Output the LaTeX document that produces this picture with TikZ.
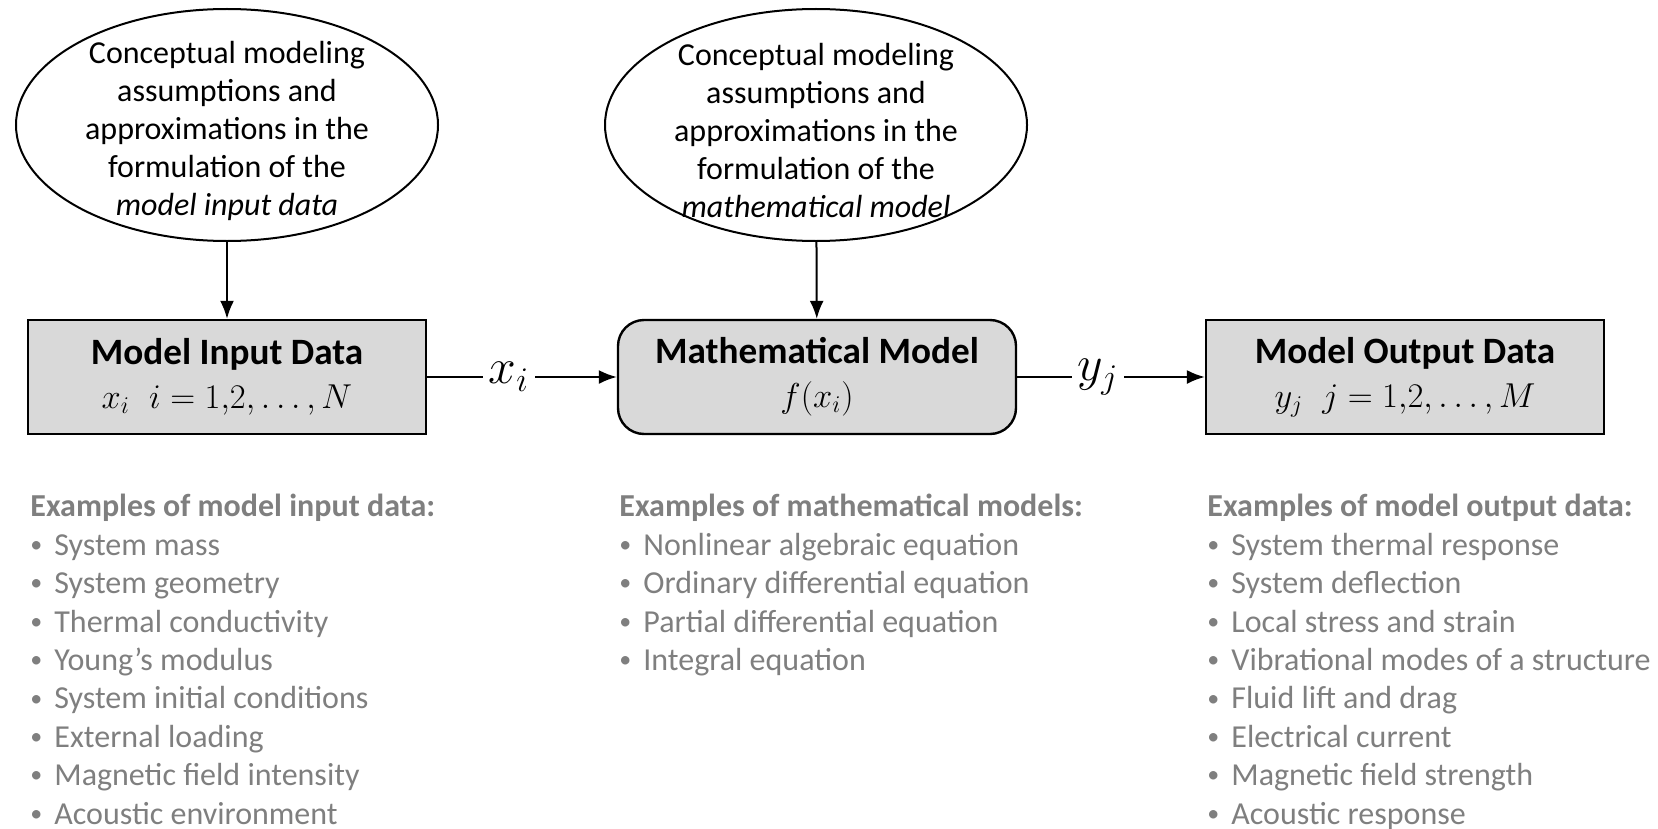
\documentclass[tikz,border=0pt]{standalone}
\usepackage[no-math]{fontspec}
\setmainfont{Carlito}
\usetikzlibrary{shapes.geometric,arrows.meta}
\definecolor{boxgray}{RGB}{217,217,217}
\definecolor{textgray}{RGB}{127,127,127}
\newcommand{\itm}{\makebox[12pt][l]{\raisebox{1.4pt}{\fontsize{12}{12}\selectfont\textbullet}}}
\newcommand{\mathline}{\fontsize{17.5}{22}\selectfont}

\begin{document}
\begin{tikzpicture}[x=0.5pt, y=-0.5pt, >={Latex[length=9pt,width=7pt]},
    idea/.style={ellipse, draw, line width=1pt, minimum width=211pt, minimum height=116pt,
        inner xsep=0pt, inner ysep=-12pt, align=center, font=\fontsize{16}{19}\selectfont},
    block/.style={rectangle, draw, fill=boxgray, line width=1.2pt, minimum width=199pt,
        minimum height=57pt, inner sep=0pt, align=center, font=\fontsize{18.6}{22}\selectfont},
    examples/.style={anchor=north west, inner sep=0pt, align=left, text=textgray,
        font=\fontsize{16}{19.2}\selectfont},
    flow/.style={->, line width=1pt},
    sym/.style={fill=white, inner sep=3pt, font=\fontsize{24}{24}\selectfont}]
    \useasboundingbox (0,0) rectangle (1658,829);

    \node[idea] (cin) at (227,125) {\rule{0pt}{17pt}Conceptual modeling\\assumptions and\\approximations in the\\formulation of the\\\textit{model input data}};
    \node[idea] (cmath) at (816,125) {\rule{0pt}{17pt}Conceptual modeling\\assumptions and\\approximations in the\\formulation of the\\\textit{mathematical model}};

    \node[block] (in) at (227,377) {\textbf{Model Input Data}\\\mathline$x_i\;\; i=1{,}2,\ldots,N$};
    \node[block, rounded corners=13pt] (model) at (817,377) {\textbf{Mathematical Model}\\\mathline$f(x_i)$};
    \node[block] (out) at (1405,377) {\textbf{Model Output Data}\\\mathline$y_j\;\; j=1{,}2,\ldots,M$};

    \draw[flow] (cin) -- (in);
    \draw[flow] (cmath) -- (model);
    \draw[flow] (in) -- node[pos=0.43, sym] {$x_i$} (model);
    \draw[flow] (model) -- node[pos=0.43, sym] {$y_j$} (out);

    \node[examples] (exin) at (30,494) {\textbf{Examples of model input data:}\\
        \itm System mass\\ \itm System geometry\\ \itm Thermal conductivity\\ \itm Young’s modulus\\
        \itm System initial conditions\\ \itm External loading\\ \itm Magnetic field intensity\\ \itm Acoustic environment};
    \node[examples] (exmath) at (619,494) {\textbf{Examples of mathematical models:}\\
        \itm Nonlinear algebraic equation\\ \itm Ordinary differential equation\\
        \itm Partial differential equation\\ \itm Integral equation};
    \node[examples] (exout) at (1207,494) {\textbf{Examples of model output data:}\\
        \itm System thermal response\\ \itm System deflection\\ \itm Local stress and strain\\
        \itm Vibrational modes of a structure\\ \itm Fluid lift and drag\\ \itm Electrical current\\
        \itm Magnetic field strength\\ \itm Acoustic response};
\end{tikzpicture}
\end{document}
